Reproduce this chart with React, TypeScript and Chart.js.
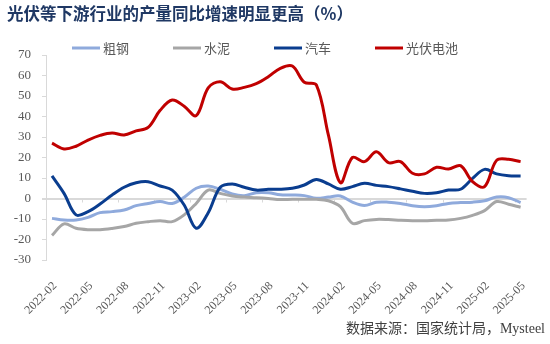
import React, { useEffect, useRef } from 'react';
import { Chart, registerables } from 'chart.js';

Chart.register(...registerables);

// ---- data ----
const months = [
  '2022-02', '2022-03', '2022-04', '2022-05', '2022-06', '2022-07', '2022-08', '2022-09', '2022-10', '2022-11', '2022-12',
  '2023-01', '2023-02', '2023-03', '2023-04', '2023-05', '2023-06', '2023-07', '2023-08', '2023-09', '2023-10', '2023-11', '2023-12',
  '2024-01', '2024-02', '2024-03', '2024-04', '2024-05', '2024-06', '2024-07', '2024-08', '2024-09', '2024-10', '2024-11', '2024-12',
  '2025-01', '2025-02', '2025-03', '2025-04', '2025-05',
];

const seriesNames = ['粗钢', '水泥', '汽车', '光伏电池'];

const crudeSteel = [
  -9.7, -10.5, -10.5, -9.2, -6.9, -6.4, -5.6, -3.5, -2.4, -1.5, -2.4,
  0.6, 5, 6.1, 4.5, 2.2, 1.4, 2.8, 2.8, 1.8, 1.7, 1.4, 0.1,
  0.7, 1.2, -1.8, -3.4, -1.8, -1.8, -2.4, -3.5, -4, -3.5, -2.4, -2,
  -1.8, -1.1, 0.7, 0.4, -2,
];

const cement = [
  -18, -12.4, -14.5, -15.2, -15.2, -14.6, -13.7, -12.1, -11.3, -10.8, -11.3,
  -8, -2.4, 4.1, 2.5, 1.2, 0.7, 0.4, 0, -0.5, -0.4, -0.4, -0.4,
  -1.1, -4, -12.1, -10.8, -10.2, -10.3, -10.6, -10.8, -10.8, -10.6, -10.5, -9.7,
  -8.2, -5.9, -1.5, -2.8, -4.3,
];

const autos = [
  11, 2.5, -8, -6.4, -2.7, 1.7, 5.5, 7.7, 8.2, 6.1, 4.1,
  -3.2, -14.5, -7, 5.5, 7.1, 5.5, 4.1, 4.5, 4.5, 5, 6.6, 9.3,
  7.1, 4.5, 5.8, 7.4, 6.4, 5.8, 4.7, 3.5, 2.5, 2.8, 4.1, 4.5,
  9.8, 14.2, 12, 11.1, 11,
];

const pvCells = [
  27, 24.2, 25.5, 28.5, 30.8, 32, 31, 33, 34.7, 43, 48,
  45, 40.4, 54, 57, 53.4, 54.2, 56, 59.4, 63.5, 64.6, 56.7, 55.4,
  31, 7.7, 20, 18, 22.8, 17.5, 18, 12.3, 12, 15.2, 14.4, 16,
  8.2, 5.8, 18.6, 19.1, 18,
];

const seriesColors = ['#8FAADC', '#A6A6A6', '#0A3D8F', '#C00000'];

const titleText = '光伏等下游行业的产量同比增速明显更高（%）';
const sourceText = '数据来源：国家统计局，Mysteel';

const serif = '"Liberation Serif", "Noto Sans CJK SC", serif';
const cjk = '"Noto Sans CJK SC", sans-serif';

const extrasPlugin = {
  id: 'extras',
  beforeDatasetsDraw(chart: any) {
    const { ctx } = chart;
    const xs = chart.scales.x;
    const ys = chart.scales.y;
    const y0 = ys.getPixelForValue(0);
    const half = (xs.getPixelForValue(1) - xs.getPixelForValue(0)) / 2;
    ctx.save();
    ctx.strokeStyle = '#D9D9D9';
    ctx.lineWidth = 1;
    ctx.beginPath();
    for (let j = 3; j < months.length; j += 3) {
      const px = Math.round(xs.getPixelForValue(j) - half) + 0.5;
      ctx.moveTo(px, y0);
      ctx.lineTo(px, y0 + 4);
    }
    ctx.stroke();
    ctx.restore();
  },
  afterDraw(chart: any) {
    const { ctx, chartArea } = chart;
    ctx.save();
    // legend
    ctx.font = `13px ${cjk}`;
    ctx.textBaseline = 'middle';
    ctx.textAlign = 'left';
    const ly = chartArea.top - 7;
    chart.data.datasets.forEach((ds: any, k: number) => {
      const lx = chartArea.left + 26 + k * 101;
      ctx.strokeStyle = ds.borderColor;
      ctx.lineWidth = 3;
      ctx.beginPath();
      ctx.moveTo(lx, ly);
      ctx.lineTo(lx + 28, ly);
      ctx.stroke();
      ctx.fillStyle = '#595959';
      ctx.fillText(ds.label, lx + 31, ly);
    });
    // source
    ctx.font = `14px ${serif}`;
    ctx.textAlign = 'right';
    ctx.fillStyle = '#404040';
    ctx.fillText(sourceText, chart.width - 5, chart.height - 15);
    ctx.restore();
  },
};

export default function App() {
  const ref = useRef<HTMLCanvasElement>(null);

  useEffect(() => {
    if (!ref.current) return;
    const series = [crudeSteel, cement, autos, pvCells];
    const chart = new Chart(ref.current, {
      type: 'line',
      data: {
        labels: months,
        datasets: series.map((vals, k) => ({
          label: seriesNames[k],
          data: vals,
          borderColor: seriesColors[k],
          backgroundColor: seriesColors[k],
          borderWidth: 3,
          pointRadius: 0,
          tension: 0.35,
          fill: false,
          borderJoinStyle: 'round' as const,
          order: 4 - k,
        })),
      },
      options: {
        responsive: false,
        animation: false,
        layout: { padding: { left: 7, right: 17, top: 0, bottom: 0 } },
        plugins: {
          legend: { display: false },
          tooltip: { enabled: false },
          title: {
            display: true,
            text: titleText,
            align: 'start',
            color: '#1F3864',
            font: { family: cjk, size: 16.5, weight: 'bold', lineHeight: 1.2 },
            padding: { top: 4, bottom: 31.2 },
          },
        },
        scales: {
          x: {
            type: 'category',
            offset: true,
            grid: { display: false, drawTicks: false },
            border: { display: false },
            ticks: {
              autoSkip: false,
              maxRotation: 45,
              minRotation: 45,
              padding: 19,
              labelOffset: 3,
              color: '#595959',
              font: { family: serif, size: 12 },
              callback: (_v: any, idx: number) => (idx % 3 === 0 ? months[idx] : ''),
            },
            afterFit: (scale: any) => {
              scale.height = 84;
            },
          },
          y: {
            min: -30,
            max: 70,
            ticks: {
              stepSize: 10,
              padding: 11,
              color: '#595959',
              font: { family: serif, size: 13 },
            },
            grid: {
              color: (c: any) => (c.tick && c.tick.value === 0 ? '#D9D9D9' : 'rgba(0,0,0,0)'),
              lineWidth: (c: any) => (c.tick && c.tick.value === 0 ? 2 : 1),
              tickColor: '#D9D9D9',
              tickLength: 4,
            },
            border: { display: true, color: '#D9D9D9', width: 1 },
            afterFit: (scale: any) => {
              scale.width = 39;
            },
          },
        },
      },
      plugins: [extrasPlugin],
    });
    return () => chart.destroy();
  }, []);

  return (
    <div style={{ position: 'absolute', left: 0, top: 0, width: 550, height: 344, background: '#fff' }}>
      <canvas ref={ref} width={550} height={344} style={{ display: 'block' }} />
    </div>
  );
}
